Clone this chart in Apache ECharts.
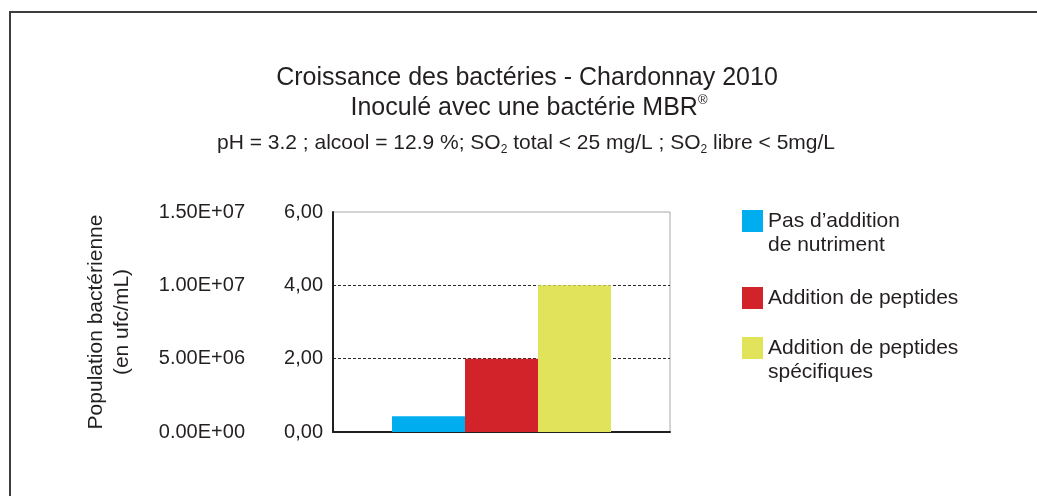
<!DOCTYPE html>
<html>
<head>
<meta charset="utf-8">
<style>
  html, body { margin: 0; padding: 0; background: #fff; }
  #chart { width: 1037px; height: 496px; }
</style>
<script src="https://cdn.jsdelivr.net/npm/echarts@6/dist/echarts.min.js"></script>
</head>
<body>
<div id="chart"></div>
<script>
// data
const categories = ['Chardonnay 2010']
const seriesNames = ['Pas d’addition de nutriment', 'Addition de peptides', 'Addition de peptides spécifiques']
const legendLabels = ['Pas d’addition\nde nutriment', 'Addition de peptides', 'Addition de peptides\nspécifiques']
const values = [0.43, 2.0, 4.0]
const ratioTicks = ['0,00', '2,00', '4,00', '6,00']
const popTicks = ['0.00E+00', '5.00E+06', '1.00E+07', '1.50E+07']

const colors = ['#00aeef', '#d2232a', '#e1e35a']
const textColor = '#231f20'
const font = '"Liberation Sans", Arial, Helvetica, sans-serif'

const chart = echarts.init(document.getElementById('chart'))

// one legend per item; two-line labels get an empty line on top so the
// square lines up with the first line of text
const legendTops = [185, 286, 312]
const legends = seriesNames.map((name, i) => {
  const twoLines = legendLabels[i].indexOf('\n') >= 0
  return {
    data: [name],
    orient: 'vertical',
    left: 742,
    top: legendTops[i],
    padding: 0,
    icon: 'rect',
    itemWidth: 21,
    itemHeight: 22,
    selectedMode: false,
    formatter: () => (twoLines ? ' \n' : '') + legendLabels[i],
    textStyle: {
      color: textColor,
      fontFamily: font,
      fontSize: 21,
      lineHeight: 24
    }
  }
})

const option = {
  animation: false,
  textStyle: { fontFamily: font },
  graphic: [
    { type: 'rect', shape: { x: 9, y: 11, width: 2, height: 485 }, style: { fill: '#3d3d3d' } },
    { type: 'rect', shape: { x: 9, y: 11, width: 1028, height: 2 }, style: { fill: '#3d3d3d' } },
    {
      type: 'text', x: 527, y: 78,
      style: {
        text: 'Croissance des bactéries - Chardonnay 2010',
        align: 'center', verticalAlign: 'middle',
        fill: textColor, font: '25px ' + font
      }
    },
    {
      type: 'text', x: 529, y: 108,
      style: {
        text: 'Inoculé avec une bactérie MBR{sup|®}',
        align: 'center', verticalAlign: 'middle',
        fill: textColor, font: '25px ' + font, lineHeight: 28,
        rich: {
          sup: { fontSize: 13, fontFamily: font, fill: textColor, verticalAlign: 'top', lineHeight: 28 }
        }
      }
    },
    {
      type: 'text', x: 526, y: 143,
      style: {
        text: 'pH = 3.2 ; alcool = 12.9 %; SO{sub|2} total < 25 mg/L ; SO{sub|2} libre < 5mg/L',
        align: 'center', verticalAlign: 'middle',
        fill: textColor, font: '21px ' + font, lineHeight: 26,
        rich: {
          sub: { fontSize: 12, fontFamily: font, fill: textColor, verticalAlign: 'bottom', lineHeight: 22 }
        }
      }
    }
  ],
  legend: legends,
  grid: {
    left: 333,
    right: 367,
    top: 212,
    bottom: 64,
    show: true,
    borderColor: '#a8a8a8',
    borderWidth: 1
  },
  xAxis: {
    type: 'category',
    data: categories,
    axisLabel: { show: false },
    axisTick: { show: false },
    axisLine: { lineStyle: { color: textColor, width: 2 } }
  },
  yAxis: [
    {
      type: 'value',
      position: 'left',
      min: 0,
      max: 6,
      interval: 2,
      axisLine: { show: true, lineStyle: { color: textColor, width: 2 } },
      axisTick: { show: false },
      axisLabel: {
        color: textColor,
        fontSize: 20,
        margin: 10,
        formatter: (v, i) => ratioTicks[i]
      },
      splitLine: {
        show: true,
        showMinLine: false,
        showMaxLine: false,
        lineStyle: { color: '#2a2a2a', type: [3, 2], width: 1 }
      }
    },
    {
      type: 'value',
      position: 'left',
      offset: 78,
      min: 0,
      max: 15000000,
      interval: 5000000,
      axisLine: { show: false },
      axisTick: { show: false },
      splitLine: { show: false },
      axisLabel: {
        color: textColor,
        fontSize: 20,
        margin: 10,
        formatter: (v, i) => popTicks[i]
      },
      name: 'Population bactérienne\n(en ufc/mL)',
      nameLocation: 'middle',
      nameRotate: 90,
      nameGap: 120,
      nameTextStyle: { color: textColor, fontSize: 21, lineHeight: 26 }
    }
  ],
  series: seriesNames.map((name, i) => ({
    name: name,
    type: 'bar',
    yAxisIndex: 0,
    barWidth: 73,
    barGap: '0%',
    itemStyle: { color: colors[i] },
    emphasis: { disabled: true },
    data: [values[i]]
  }))
}

chart.setOption(option)
</script>
</body>
</html>
